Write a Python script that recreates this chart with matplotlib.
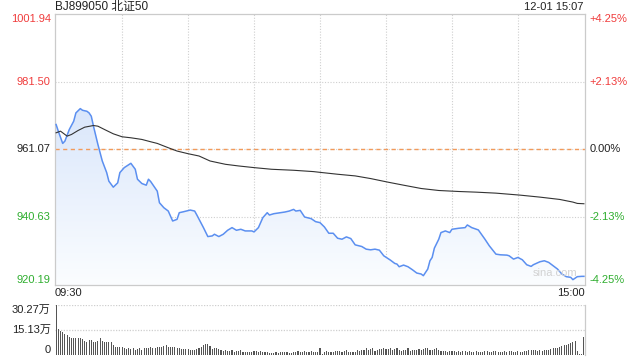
import numpy as np
import matplotlib
matplotlib.use("Agg")
import matplotlib.pyplot as plt
from matplotlib.colors import LinearSegmentedColormap

plt.rcParams['font.family'] = ['Liberation Sans', 'Noto Sans CJK SC', 'DejaVu Sans']

# 分时数据 (分钟序号 0..240, 午间休市合并)
prev_close = 961.07
price_min = [0, 1, 3, 4, 6, 8, 9, 11, 12, 14, 15, 16, 17, 19, 21, 23, 24, 26, 28, 29,
             31, 34, 36, 37, 39, 41, 42, 43, 46, 47, 49, 51, 53, 55, 56, 58, 61, 63, 64, 67,
             69, 71, 72, 74, 76, 78, 80, 82, 84, 86, 89, 90, 92, 94, 96, 97, 99, 102, 104, 106,
             108, 109, 111, 113, 116, 118, 120, 122, 124, 126, 128, 130, 132, 134, 136, 139, 141, 143, 145, 147,
             149, 152, 154, 155, 156, 158, 160, 162, 164, 166, 167, 169, 170, 171, 172, 174, 175, 177, 179, 180,
             183, 186, 187, 189, 192, 195, 197, 200, 202, 205, 206, 208, 210, 212, 214, 216, 217, 220, 222, 224,
             226, 228, 230, 232, 234, 235, 237, 239, 240]
price_val = [968.6, 966.6, 962.9, 963.6, 967.1, 969.6, 972.1, 973.4, 972.9, 972.6, 972.1, 971.1, 968.1, 962.6, 957.6, 954.1, 951.5, 949.7, 951.0, 954.1,
             955.6, 956.9, 955.1, 952.1, 950.8, 950.3, 952.1, 951.4, 948.5, 945.0, 943.5, 942.5, 939.5, 940.0, 942.0, 942.3, 942.8, 942.5, 941.3, 937.5,
             934.8, 935.0, 935.5, 934.8, 935.5, 936.7, 937.5, 936.7, 937.0, 936.5, 936.5, 936.2, 937.5, 940.5, 942.0, 941.3, 941.7, 942.0, 942.2, 942.5,
             943.0, 942.5, 942.7, 940.7, 940.2, 939.3, 939.0, 937.7, 935.8, 935.8, 934.3, 934.0, 934.7, 934.2, 932.3, 931.8, 931.0, 930.8, 931.0, 930.7,
             929.0, 927.7, 926.7, 926.5, 925.7, 926.2, 925.7, 924.8, 923.8, 923.5, 923.0, 925.0, 927.5, 928.5, 931.3, 934.0, 936.0, 936.5, 936.0, 937.0,
             937.3, 937.5, 938.3, 937.5, 936.8, 934.0, 932.0, 929.5, 929.3, 929.2, 929.0, 928.0, 928.5, 927.8, 926.3, 925.8, 926.3, 927.2, 927.5, 927.0,
             926.0, 925.0, 923.5, 922.7, 922.5, 921.8, 922.7, 922.8, 922.8]

avg_min = [0, 2, 5, 7, 10, 13, 17, 19, 22, 26, 30, 34, 39, 43, 46, 51, 55, 60, 65, 70,
           77, 83, 90, 98, 108, 117, 121, 128, 136, 143, 151, 158, 166, 174, 183, 191, 200, 211, 220, 229,
           235, 237, 240]
avg_val = [966.1, 966.6, 965.1, 965.6, 966.8, 967.8, 968.3, 968.1, 967.1, 965.8, 964.9, 964.6, 964.1, 963.4, 962.9, 961.6, 960.6, 959.8, 959.1, 957.6,
           956.6, 956.1, 955.6, 955.1, 954.8, 954.4, 954.1, 953.6, 953.1, 952.3, 951.2, 950.3, 949.3, 948.7, 948.4, 948.2, 947.9, 947.3, 946.7, 946.0,
           945.2, 944.8, 944.7]

# 成交量 (万)
vol_am = [30.27, 15.5, 14.7, 14.1, 12.9, 12.1, 11.1, 10.5, 10.1, 10.5,
          10.5, 10.1, 9.7, 8.5, 8.1, 9.1, 9.1, 8.1, 8.1, 8.5,
          10.1, 8.5, 7.7, 7.7, 7.7, 8.1, 6.1, 5.0, 5.0, 5.0,
          4.6, 4.0, 3.6, 4.0, 3.4, 4.0, 3.0, 3.6, 4.0, 3.0,
          4.0, 4.0, 4.0, 4.6, 4.0, 4.0, 4.6, 4.6, 5.0, 5.4,
          6.1, 4.6, 4.6, 4.6, 4.6, 4.0, 4.0, 3.6, 3.4, 3.4,
          3.4, 3.0, 3.0, 3.0, 3.4, 4.0, 5.0, 6.1, 6.5, 6.5,
          5.4, 3.6, 4.0, 4.0, 3.6, 3.0, 2.4, 3.0, 2.6, 2.4,
          3.0, 2.0, 2.4, 2.4, 3.0, 2.0, 2.0, 2.0, 2.0, 1.6,
          2.4, 2.4, 2.0, 2.4, 1.6, 2.0, 1.6, 1.4, 1.0, 1.4,
          2.0, 1.4, 1.6, 2.0, 2.0, 2.0, 1.4, 1.4, 2.0, 2.0,
          2.4, 1.6, 2.0, 2.4, 2.0, 1.6, 2.4, 2.0, 1.6, 2.0,
          4.0]
vol_pm = [0.4, 2.0, 2.4, 2.0, 2.0, 2.0, 2.6, 2.4, 2.6, 2.0,
          2.6, 3.0, 2.0, 1.6, 2.0, 2.0, 3.0, 2.4, 3.0, 3.0,
          4.0, 3.0, 3.4, 4.0, 2.6, 3.0, 3.4, 3.6, 4.0, 3.4,
          3.6, 4.0, 3.0, 3.6, 4.0, 3.0, 2.6, 3.0, 3.0, 4.0,
          2.6, 3.0, 3.0, 3.0, 3.4, 3.0, 3.6, 4.0, 4.0, 3.0,
          3.0, 3.4, 4.0, 3.0, 2.6, 2.6, 2.4, 2.0, 2.4, 2.4,
          2.2, 2.0, 2.4, 2.0, 2.6, 2.2, 2.0,
          2.4, 2.0, 2.0, 2.4, 2.0, 2.0, 2.0, 2.4, 2.4, 2.0,
          2.0, 2.6, 2.4, 2.0, 2.0, 2.0, 2.6, 2.0, 2.6, 2.4,
          2.0, 2.0, 2.6, 2.0, 2.0, 2.4, 2.6, 3.0, 3.0, 3.0,
          3.0, 2.6, 3.0, 2.6, 3.0, 3.0, 3.0, 3.6, 4.0, 4.0,
          4.4, 5.0, 5.4, 6.1, 6.1, 6.5, 7.1, 8.1, 8.5, 2.4,
          0.8, 0.8, 11.1]
volume = vol_am + vol_pm

y_left = [1001.94, 981.50, 961.07, 940.63, 920.19]
y_right = ['+4.25%', '+2.13%', '0.00%', '-2.13%', '-4.25%']
y_colors = ['#f03c3c', '#f03c3c', '#222222', '#2fae2f', '#2fae2f']
vol_ticks = [30.27, 15.13, 0]
vol_labels = ['30.27万', '15.13万', '0']

GRID = '#cfcfcf'
BORDER = '#cbcbcb'

fig = plt.figure(figsize=(6.4, 3.6), dpi=100)
ax = fig.add_axes([55/640, 1-285/360, 530/640, 271/360])
axv = fig.add_axes([55/640, 1-355/360, 530/640, 50/360])

xmin, xmax = -0.5, 240.5
ymin, ymax = y_left[-1], y_left[0]

# 网格
for gx in range(30, 240, 30):
    ax.axvline(gx, color=GRID, lw=0.8, ls=(0, (1, 1.5)), zorder=0)
for gy in y_left[1:4]:
    ax.axhline(gy, color=GRID, lw=0.8, ls=(0, (1, 1.5)), zorder=0)
ax.axhline(prev_close, color='#f29a5a', lw=1.0, ls=(0, (3, 2.5)), zorder=2)

# 渐变填充
poly = ax.fill_between(price_min, price_val, ymin, facecolor='none', edgecolor='none')
cmap = LinearSegmentedColormap.from_list('g', ['#fbfdff', '#d9e6fb'])
grad = np.linspace(1, 0, 256).reshape(-1, 1)
im = ax.imshow(grad, extent=[xmin, xmax, ymin, 975], aspect='auto', cmap=cmap,
               origin='upper', zorder=1)
im.set_clip_path(poly.get_paths()[0], transform=ax.transData)

ax.plot(price_min, price_val, color='#5b8ff0', lw=1.1, zorder=3)
ax.plot(avg_min, avg_val, color='#333333', lw=0.8, zorder=3)

ax.set_xlim(xmin, xmax)
ax.set_ylim(ymin, ymax)
ax.set_xticks([])
ax.set_yticks([])
for s in ax.spines.values():
    s.set_color(BORDER)
    s.set_linewidth(0.9)

tr = ax.get_yaxis_transform()
vas = ['top', 'center', 'center', 'center', 'bottom']
for v, r, c, va in zip(y_left, y_right, y_colors, vas):
    ax.text(-0.008, v, f'{v:.2f}', transform=tr, ha='right', va=va, color=c, fontsize=8)
    ax.text(1.009, v, r, transform=tr, ha='left', va=va, color=c, fontsize=8)

ax.text(0.0, 1.026, 'BJ899050 北证50', transform=ax.transAxes, ha='left', va='center',
        fontsize=8.5, color='#222222')
ax.text(0.997, 1.026, '12-01 15:07', transform=ax.transAxes, ha='right', va='center',
        fontsize=8, color='#222222')
ax.text(0.0, -0.012, '09:30', transform=ax.transAxes, ha='left', va='top', fontsize=8, color='#222222')
ax.text(1.0, -0.012, '15:00', transform=ax.transAxes, ha='right', va='top', fontsize=8, color='#222222')
ax.text(0.985, 0.025, 'sina.com', transform=ax.transAxes, ha='right', va='bottom',
        fontsize=8, color='#d2d2d2', zorder=4)

# 成交量
axv.bar(range(len(volume)), volume, width=0.5, color='#555555', zorder=2)
axv.axhline(vol_ticks[0], color=GRID, lw=0.9, ls=(0, (1, 1.2)), zorder=0)
axv.axhline(vol_ticks[1], color=GRID, lw=0.9, ls=(0, (1, 1.2)), zorder=0)
axv.set_xlim(xmin, xmax)
axv.set_ylim(0, vol_ticks[0])
axv.set_xticks([])
axv.set_yticks([])
for k in ['left', 'top', 'bottom']:
    axv.spines[k].set_visible(False)
axv.spines['right'].set_color(BORDER)
axv.spines['right'].set_linewidth(0.9)
trv = axv.get_yaxis_transform()
for v, lab, va in zip(vol_ticks, vol_labels, ['top', 'center', 'bottom']):
    axv.text(-0.008, v, lab, transform=trv, ha='right', va=va, fontsize=8, color='#222222')

fig.savefig('out.png', dpi=100)
